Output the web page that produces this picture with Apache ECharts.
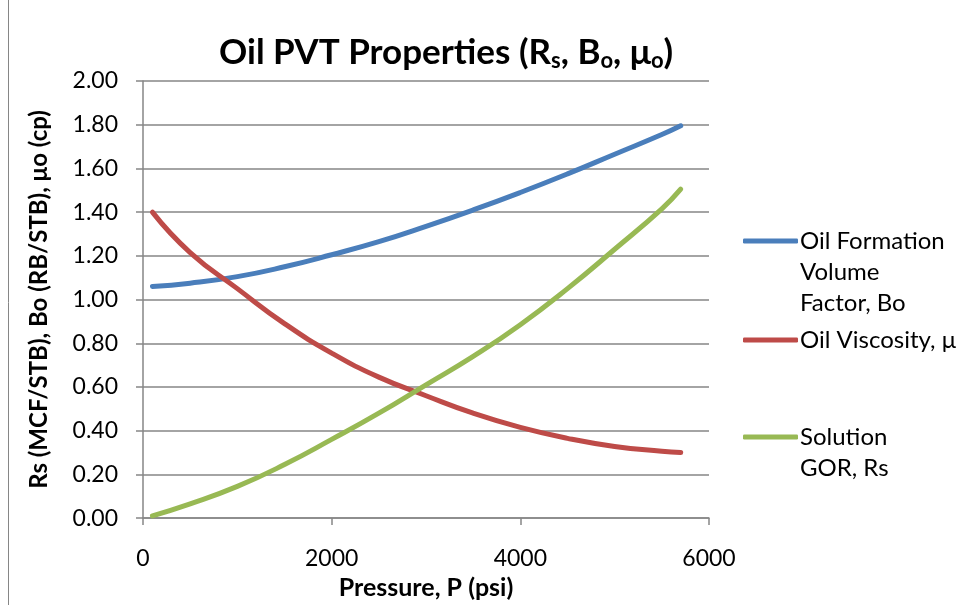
<!DOCTYPE html>
<html><head><meta charset="utf-8">
<script src="https://cdn.jsdelivr.net/npm/echarts@6/dist/echarts.min.js"></script>
<style>html,body{margin:0;padding:0;background:#fff}#c{width:977px;height:605px}</style>
</head><body><div id="c"></div>
<script>
const pressure = [100, 500, 1000, 1500, 2000, 2500, 3000, 3500, 4000, 4500, 5000, 5500, 5700];
const bo = [1.06, 1.075, 1.105, 1.15, 1.205, 1.265, 1.335, 1.41, 1.49, 1.575, 1.665, 1.755, 1.795];
const mu = [1.40, 1.215, 1.05, 0.89, 0.755, 0.645, 0.56, 0.48, 0.415, 0.365, 0.328, 0.306, 0.30];
const rs = [0.01, 0.065, 0.145, 0.245, 0.36, 0.48, 0.61, 0.74, 0.885, 1.05, 1.23, 1.415, 1.505];
const seriesNames = ['Oil Formation Volume Factor, Bo', 'Oil Viscosity, μ', 'Solution GOR, Rs'];
const legendLines = [['Oil Formation', 'Volume', 'Factor, Bo'], ['Oil Viscosity, μ'], ['Solution', 'GOR, Rs']];
const colors = ['#4a7ebb', '#be4b48', '#98b954'];
const yTicks = [0, 2, 0.2];
const xTicks = [0, 6000, 2000];

const FONT = 'Lato, "Open Sans", sans-serif';
const chart = echarts.init(document.getElementById('c'));
const vals = [bo, mu, rs];
const legendTops = [229, 328, 425];
const legends = seriesNames.map((n, i) => ({
  data: [n], left: 743, top: legendTops[i], orient: 'vertical',
  icon: 'roundRect', itemWidth: 55, itemHeight: 5, itemGap: 0, padding: 0,
  formatter: () => legendLines[i][0],
  textStyle: { fontFamily: FONT, fontSize: 24, color: '#000', padding: [0, 0, 0, -3] },
  selectedMode: false
}));
const extraText = [];
legendLines.forEach((ls, i) => {
  ls.slice(1).forEach((t, j) => {
    extraText.push({ type: 'text', left: 800, top: legendTops[i] + 31 * (j + 1),
      style: { text: t, font: '24px ' + FONT, fill: '#000' } });
  });
});
chart.setOption({
  animation: false,
  color: colors,
  title: {
    text: 'Oil PVT Properties (R{s|s}, B{s|o}, μ{s|o})',
    left: 214, top: 29,
    textStyle: { fontFamily: FONT, fontSize: 35, fontWeight: 'bold', color: '#000',
      rich: { s: { fontFamily: FONT, fontSize: 22, fontWeight: 'bold', color: '#000', verticalAlign: 'bottom', padding: [16, 0, 0, 0] } } }
  },
  legend: legends,
  graphic: [
    { type: 'line', shape: { x1: 8.5, y1: 0, x2: 8.5, y2: 605 }, style: { stroke: '#868686', lineWidth: 1 } }
  ].concat(extraText),
  grid: { left: 143, right: 268, top: 81, bottom: 86, containLabel: false },
  xAxis: {
    type: 'value', min: xTicks[0], max: xTicks[1], interval: xTicks[2],
    name: 'Pressure, P (psi)', nameLocation: 'middle', nameGap: 55,
    nameTextStyle: { fontFamily: FONT, fontSize: 25, fontWeight: 'bold', color: '#000' },
    axisLine: { lineStyle: { color: '#868686', width: 1.5 } },
    axisTick: { show: true, length: 7, lineStyle: { color: '#868686', width: 1.5 } },
    axisLabel: { fontFamily: FONT, fontSize: 23, color: '#000', margin: 29, formatter: v => String(v) },
    splitLine: { show: false }
  },
  yAxis: {
    type: 'value', min: yTicks[0], max: yTicks[1], interval: yTicks[2],
    name: 'Rs (MCF/STB), Bo (RB/STB), μo (cp)', nameLocation: 'middle', nameGap: 92,
    nameTextStyle: { fontFamily: FONT, fontSize: 24, fontWeight: 'bold', color: '#000' },
    axisLine: { show: true, lineStyle: { color: '#868686', width: 1.5 } },
    axisTick: { show: true, length: 7, lineStyle: { color: '#868686', width: 1.5 } },
    axisLabel: { fontFamily: FONT, fontSize: 23, color: '#000', margin: 25, formatter: v => v.toFixed(2) },
    splitLine: { show: true, lineStyle: { color: '#868686', width: 1.5 } }
  },
  series: seriesNames.map((n, i) => ({
    name: n, type: 'line', smooth: 0.5, showSymbol: false, symbol: 'none',
    lineStyle: { width: 5, color: colors[i], cap: 'round' },
    itemStyle: { color: colors[i] },
    data: pressure.map((p, k) => [p, vals[i][k]])
  }))
});
</script></body></html>
